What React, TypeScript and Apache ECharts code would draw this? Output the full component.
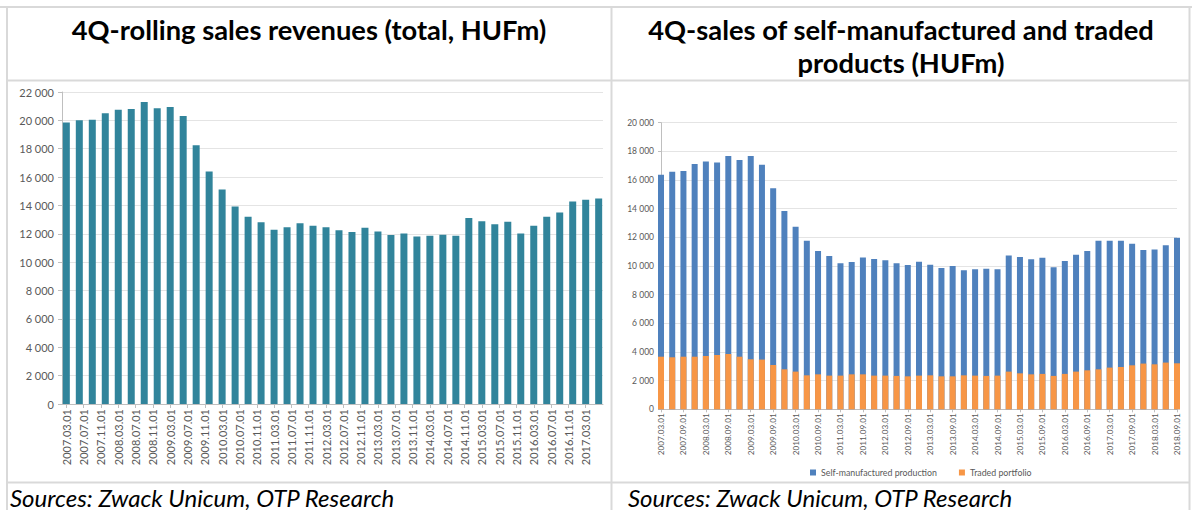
import React, { useEffect, useRef } from "react";
import * as echarts from "echarts";

// ---- Data ----
// Left chart: 4Q-rolling sales revenues (total, HUFm), quarterly from 2007.03 to 2017.06
const leftStart = { year: 2007, month: 3 };
const leftValues = [
  19850, 20000, 20050, 20500, 20750, 20800, 21300, 20850, 20950, 20300,
  18250, 16400, 15130, 13930, 13200, 12820, 12280, 12470, 12750, 12570,
  12470, 12260, 12120, 12420, 12170, 11910, 12020, 11810, 11860, 11930,
  11860, 13110, 12890, 12680, 12850, 12020, 12570, 13200, 13510, 14280,
  14400, 14490,
];

// Right chart: quarterly from 2007.03 to 2018.09
const rightStart = { year: 2007, month: 3 };
const selfManufactured = [
  16370, 16580, 16630, 17120, 17300, 17230, 17670, 17400, 17670, 17070,
  15420, 13840, 12740, 11770, 11050, 10700, 10190, 10280, 10600, 10490,
  10400, 10190, 10070, 10300, 10090, 9860, 10000, 9700, 9770, 9810,
  9770, 10740, 10630, 10470, 10580, 9910, 10350, 10790, 11050, 11770,
  11770, 11770, 11560, 11120, 11160, 11440, 11980,
];
const tradedPortfolio = [
  3670, 3630, 3670, 3670, 3720, 3790, 3860, 3670, 3490, 3470,
  3090, 2790, 2630, 2370, 2440, 2350, 2350, 2440, 2440, 2350,
  2350, 2330, 2300, 2350, 2370, 2300, 2300, 2370, 2350, 2330,
  2350, 2630, 2510, 2440, 2470, 2330, 2470, 2630, 2720, 2790,
  2910, 2950, 3070, 3190, 3140, 3260, 3210,
];

const seriesNames = ["Self-manufactured production", "Traded portfolio"];
const leftTitle = "4Q-rolling sales revenues (total, HUFm)";
const rightTitleLines = ["4Q-sales of self-manufactured and traded", "products (HUFm)"];
const sourceText = "Sources: Zwack Unicum, OTP Research";

// ---- helpers ----
function dateLabel(year: number, month: number) {
  return `${year}.${String(month).padStart(2, "0")}.01`;
}
function addMonths(start: { year: number; month: number }, n: number) {
  const t = start.year * 12 + (start.month - 1) + n;
  return { year: Math.floor(t / 12), month: (t % 12) + 1 };
}

// Left axis: monthly categories (one padding month before and after), labels every 4 months
const leftMonthCount = (leftValues.length - 1) * 3 + 3;
const leftMonths: string[] = [];
for (let i = 0; i < leftMonthCount; i++) {
  const d = addMonths(leftStart, i - 1);
  leftMonths.push(dateLabel(d.year, d.month));
}
const leftBarData: (number | string)[] = leftMonths.map(() => "-");
leftValues.forEach((v, k) => {
  leftBarData[1 + 3 * k] = v;
});
const leftShow = (i: number) => i >= 1 && (i - 1) % 4 === 0 && i <= leftMonthCount - 2;

// Right axis: quarterly categories
const rightQuarters: string[] = selfManufactured.map((_, k) => {
  const d = addMonths(rightStart, 3 * k);
  return dateLabel(d.year, d.month);
});

const FONT = "Lato, 'Liberation Sans', sans-serif";
const LABEL = "#595959";
const AXIS = "#bfbfbf";
const GRID = "#e4e4e4";
const BORDER = "#d9d9d9";

const yFmt = (v: number) => (v === 0 ? "0" : `${Math.round(v / 1000)} 000`);

export default function App() {
  const ref = useRef<HTMLDivElement>(null);
  useEffect(() => {
    if (!ref.current) return;
    const chart = echarts.init(ref.current, undefined, { renderer: "svg" });
    const line = (x1: number, y1: number, x2: number, y2: number, w = 2) => ({
      type: "line",
      shape: { x1, y1, x2, y2 },
      style: { stroke: BORDER, lineWidth: w },
      silent: true,
    });
    const titleText = (x: number, y: number, text: string) => ({
      type: "text",
      x,
      y,
      style: {
        text,
        fontSize: 27.3,
        fontWeight: "bold",
        fontFamily: FONT,
        fill: "#000000",
        align: "center",
        verticalAlign: "middle",
      },
    });
    const srcText = (x: number) => ({
      type: "text",
      x,
      y: 509,
      style: {
        text: sourceText,
        fontSize: 24,
        fontStyle: "italic",
        fontFamily: FONT,
        fill: "#000000",
        align: "left",
        verticalAlign: "bottom",
      },
    });
    chart.setOption({
      animation: false,
      backgroundColor: "#ffffff",
      textStyle: { fontFamily: FONT },
      grid: [
        { left: 62, top: 92, width: 541, height: 312 },
        { left: 661, top: 122.7, width: 516, height: 286.6 },
      ],
      legend: {
        data: seriesNames,
        left: 805,
        top: 463,
        icon: "rect",
        itemWidth: 6,
        itemHeight: 6,
        itemGap: 22,
        textStyle: { fontSize: 8.8, color: LABEL, fontFamily: FONT },
      },
      xAxis: [
        {
          type: "category",
          gridIndex: 0,
          data: leftMonths,
          boundaryGap: false,
          axisLine: { lineStyle: { color: AXIS } },
          axisTick: { show: true, interval: leftShow, length: 4, lineStyle: { color: AXIS } },
          axisLabel: {
            interval: leftShow,
            rotate: 90,
            fontSize: 11,
            color: LABEL,
            margin: 5,
            fontFamily: FONT,
          },
          splitLine: { show: false },
        },
        {
          type: "category",
          gridIndex: 1,
          data: rightQuarters,
          boundaryGap: false,
          axisLine: { lineStyle: { color: AXIS } },
          axisTick: { show: true, interval: 1, length: 3, lineStyle: { color: AXIS } },
          axisLabel: {
            interval: 1,
            rotate: 90,
            fontSize: 8.2,
            color: LABEL,
            margin: 4,
            fontFamily: FONT,
          },
          splitLine: { show: false },
        },
      ],
      yAxis: [
        {
          type: "value",
          gridIndex: 0,
          min: 0,
          max: 22000,
          interval: 2000,
          axisLine: { show: true, lineStyle: { color: AXIS } },
          axisTick: { show: true, length: 4, lineStyle: { color: AXIS } },
          axisLabel: { fontSize: 11, color: LABEL, margin: 8, formatter: yFmt, fontFamily: FONT },
          splitLine: { lineStyle: { color: GRID, width: 1 } },
        },
        {
          type: "value",
          gridIndex: 1,
          min: 0,
          max: 20000,
          interval: 2000,
          axisLine: { show: true, lineStyle: { color: AXIS } },
          axisTick: { show: true, length: 3, lineStyle: { color: AXIS } },
          axisLabel: { fontSize: 8.5, color: LABEL, margin: 7, formatter: yFmt, fontFamily: FONT },
          splitLine: { lineStyle: { color: GRID, width: 1 } },
        },
      ],
      series: [
        {
          type: "bar",
          name: "Total",
          xAxisIndex: 0,
          yAxisIndex: 0,
          data: leftBarData,
          barWidth: 7,
          itemStyle: { color: "#31849B" },
        },
        {
          type: "bar",
          name: seriesNames[0],
          xAxisIndex: 1,
          yAxisIndex: 1,
          data: selfManufactured,
          barWidth: 6,
          itemStyle: { color: "#4F81BD" },
        },
        {
          type: "bar",
          name: seriesNames[1],
          xAxisIndex: 1,
          yAxisIndex: 1,
          data: tradedPortfolio,
          barWidth: 6,
          barGap: "-100%",
          itemStyle: { color: "#F79646" },
        },
      ],
      graphic: [
        line(0, 7, 1192, 7),
        line(7, 7, 7, 510),
        line(611.5, 7, 611.5, 510),
        line(1189.5, 7, 1189.5, 510),
        line(7, 80.5, 1190, 80.5),
        line(7, 482.5, 1190, 482.5),
        titleText(309, 29, leftTitle),
        titleText(901, 29, rightTitleLines[0]),
        titleText(901, 62, rightTitleLines[1]),
        srcText(10),
        srcText(628),
      ],
    });
    return () => chart.dispose();
  }, []);
  return (
    <div
      ref={ref}
      style={{ position: "fixed", left: 0, top: 0, width: 1192, height: 510 }}
    />
  );
}
